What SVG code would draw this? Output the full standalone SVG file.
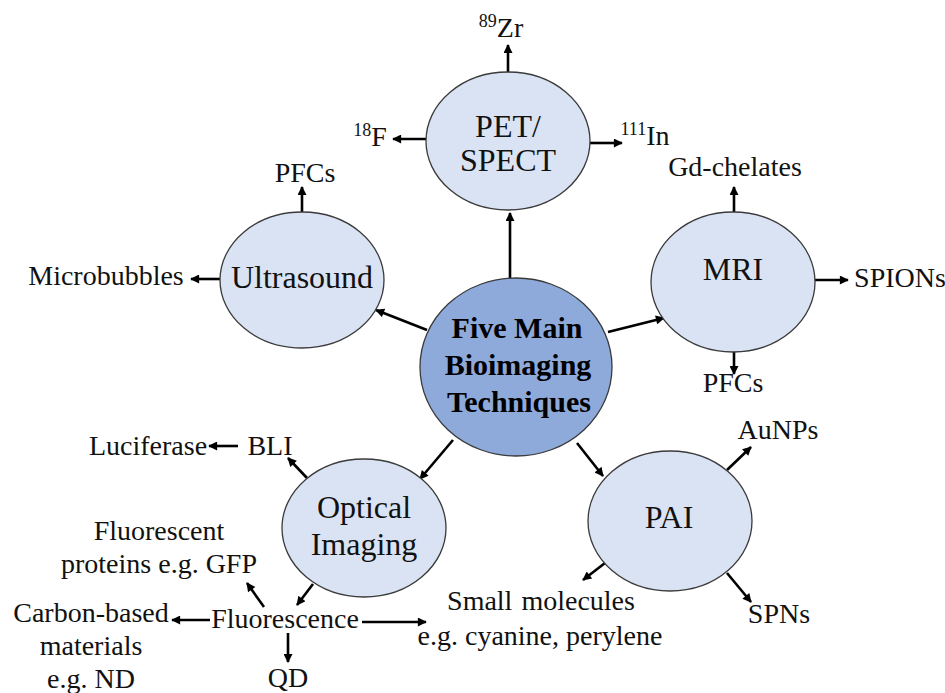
<svg xmlns="http://www.w3.org/2000/svg" width="945" height="693" viewBox="0 0 945 693">
  <defs>
    <marker id="arrow" viewBox="0 0 10 10" refX="9" refY="5" markerWidth="11" markerHeight="9" markerUnits="userSpaceOnUse" orient="auto">
      <path d="M0,0 L10,5 L0,10 z" fill="#000"/>
    </marker>
    <style>
      .node { fill: #DAE3F3; stroke: #3A3A3A; stroke-width: 1.3; }
      .hub { fill: #8EAADB; stroke: #3A3A3A; stroke-width: 1.3; }
      .lbl { font-family: "Liberation Serif", "Times New Roman", serif; font-size: 32px; fill: #111; text-anchor: middle; }
      .hubtxt { font-family: "Liberation Serif", "Times New Roman", serif; font-size: 30px; font-weight: bold; fill: #000; text-anchor: middle; }
      .item { font-family: "Liberation Serif", "Times New Roman", serif; font-size: 28px; fill: #111; text-anchor: middle; }
      .sup { font-size: 18px; }
      .conn line { stroke: #000; stroke-width: 2.6; marker-end: url(#arrow); }
    </style>
  </defs>
  <rect width="945" height="693" fill="#fff"/>

  <!-- connectors -->
  <g class="conn" id="connectors">
    <!-- hub to techniques -->
    <line x1="510" y1="278" x2="510" y2="213"/>
    <line x1="427" y1="330" x2="376" y2="310"/>
    <line x1="608" y1="332" x2="664" y2="318"/>
    <line x1="453" y1="440" x2="420" y2="479"/>
    <line x1="577" y1="443" x2="603" y2="476"/>
    <!-- PET/SPECT -->
    <line x1="508" y1="73" x2="508" y2="45"/>
    <line x1="427" y1="139" x2="393" y2="139"/>
    <line x1="590" y1="143" x2="622" y2="143"/>
    <!-- Ultrasound -->
    <line x1="302" y1="212" x2="302" y2="187"/>
    <line x1="220" y1="279" x2="191" y2="279"/>
    <!-- MRI -->
    <line x1="734" y1="212" x2="734" y2="187"/>
    <line x1="815" y1="280" x2="848" y2="280"/>
    <line x1="734" y1="352" x2="734" y2="374"/>
    <!-- Optical Imaging -->
    <line x1="307" y1="478" x2="288" y2="458"/>
    <line x1="238" y1="446" x2="209" y2="446"/>
    <line x1="313" y1="584" x2="297" y2="605"/>
    <line x1="264" y1="607" x2="247" y2="583"/>
    <line x1="210" y1="620" x2="172" y2="620"/>
    <line x1="288" y1="633" x2="288" y2="662"/>
    <line x1="362" y1="622" x2="426" y2="622"/>
    <!-- PAI -->
    <line x1="727" y1="470" x2="751" y2="447"/>
    <line x1="727" y1="573" x2="751" y2="602"/>
    <line x1="605" y1="563" x2="583" y2="580"/>
  </g>

  <!-- hub -->
  <g id="hub">
    <ellipse class="hub" cx="516" cy="367" rx="96" ry="89"/>
    <text class="hubtxt" x="517" y="338">Five Main</text>
    <text class="hubtxt" x="518" y="375">Bioimaging</text>
    <text class="hubtxt" x="519" y="412">Techniques</text>
  </g>

  <!-- techniques -->
  <g id="pet-spect">
    <ellipse class="node" cx="508" cy="141" rx="82" ry="69"/>
    <text class="lbl" x="508" y="137">PET/</text>
    <text class="lbl" x="508" y="171">SPECT</text>
  </g>
  <g id="ultrasound">
    <ellipse class="node" cx="302" cy="280" rx="82" ry="68"/>
    <text class="lbl" x="302" y="288">Ultrasound</text>
  </g>
  <g id="mri">
    <ellipse class="node" cx="733" cy="282" rx="82" ry="70"/>
    <text class="lbl" x="733" y="280">MRI</text>
  </g>
  <g id="optical-imaging">
    <ellipse class="node" cx="364" cy="528" rx="82" ry="69"/>
    <text class="lbl" x="364" y="518">Optical</text>
    <text class="lbl" x="364" y="555">Imaging</text>
  </g>
  <g id="pai">
    <ellipse class="node" cx="670" cy="521" rx="82" ry="70"/>
    <text class="lbl" x="669" y="528">PAI</text>
  </g>

  <!-- agents -->
  <g id="zr89"><text class="item" x="501" y="37"><tspan class="sup" dy="-10">89</tspan><tspan dy="10">Zr</tspan></text></g>
  <g id="f18"><text class="item" x="370" y="146"><tspan class="sup" dy="-10">18</tspan><tspan dy="10">F</tspan></text></g>
  <g id="in111"><text class="item" x="645" y="145"><tspan class="sup" dy="-10">111</tspan><tspan dy="10">In</tspan></text></g>
  <g id="us-pfcs"><text class="item" x="305" y="182">PFCs</text></g>
  <g id="microbubbles"><text class="item" x="106" y="285">Microbubbles</text></g>
  <g id="gd-chelates"><text class="item" x="735" y="176">Gd-chelates</text></g>
  <g id="spions"><text class="item" x="900" y="287">SPIONs</text></g>
  <g id="mri-pfcs"><text class="item" x="733" y="392">PFCs</text></g>
  <g id="bli"><text class="item" x="270" y="455">BLI</text></g>
  <g id="luciferase"><text class="item" x="148" y="455">Luciferase</text></g>
  <g id="fluorescence"><text class="item" x="285" y="628">Fluorescence</text></g>
  <g id="fluorescent-proteins">
    <text class="item" x="159" y="540">Fluorescent</text>
    <text class="item" x="159" y="573">proteins e.g. GFP</text>
  </g>
  <g id="carbon-based">
    <text class="item" x="91" y="622">Carbon-based</text>
    <text class="item" x="91" y="655">materials</text>
    <text class="item" x="91" y="688">e.g. ND</text>
  </g>
  <g id="qd"><text class="item" x="288" y="687">QD</text></g>
  <g id="small-molecules">
    <text class="item" x="541" y="610" style="word-spacing:2px">Small molecules</text>
    <text class="item" x="540" y="645">e.g. cyanine, perylene</text>
  </g>
  <g id="aunps"><text class="item" x="778" y="439">AuNPs</text></g>
  <g id="spns"><text class="item" x="779" y="623">SPNs</text></g>
</svg>
